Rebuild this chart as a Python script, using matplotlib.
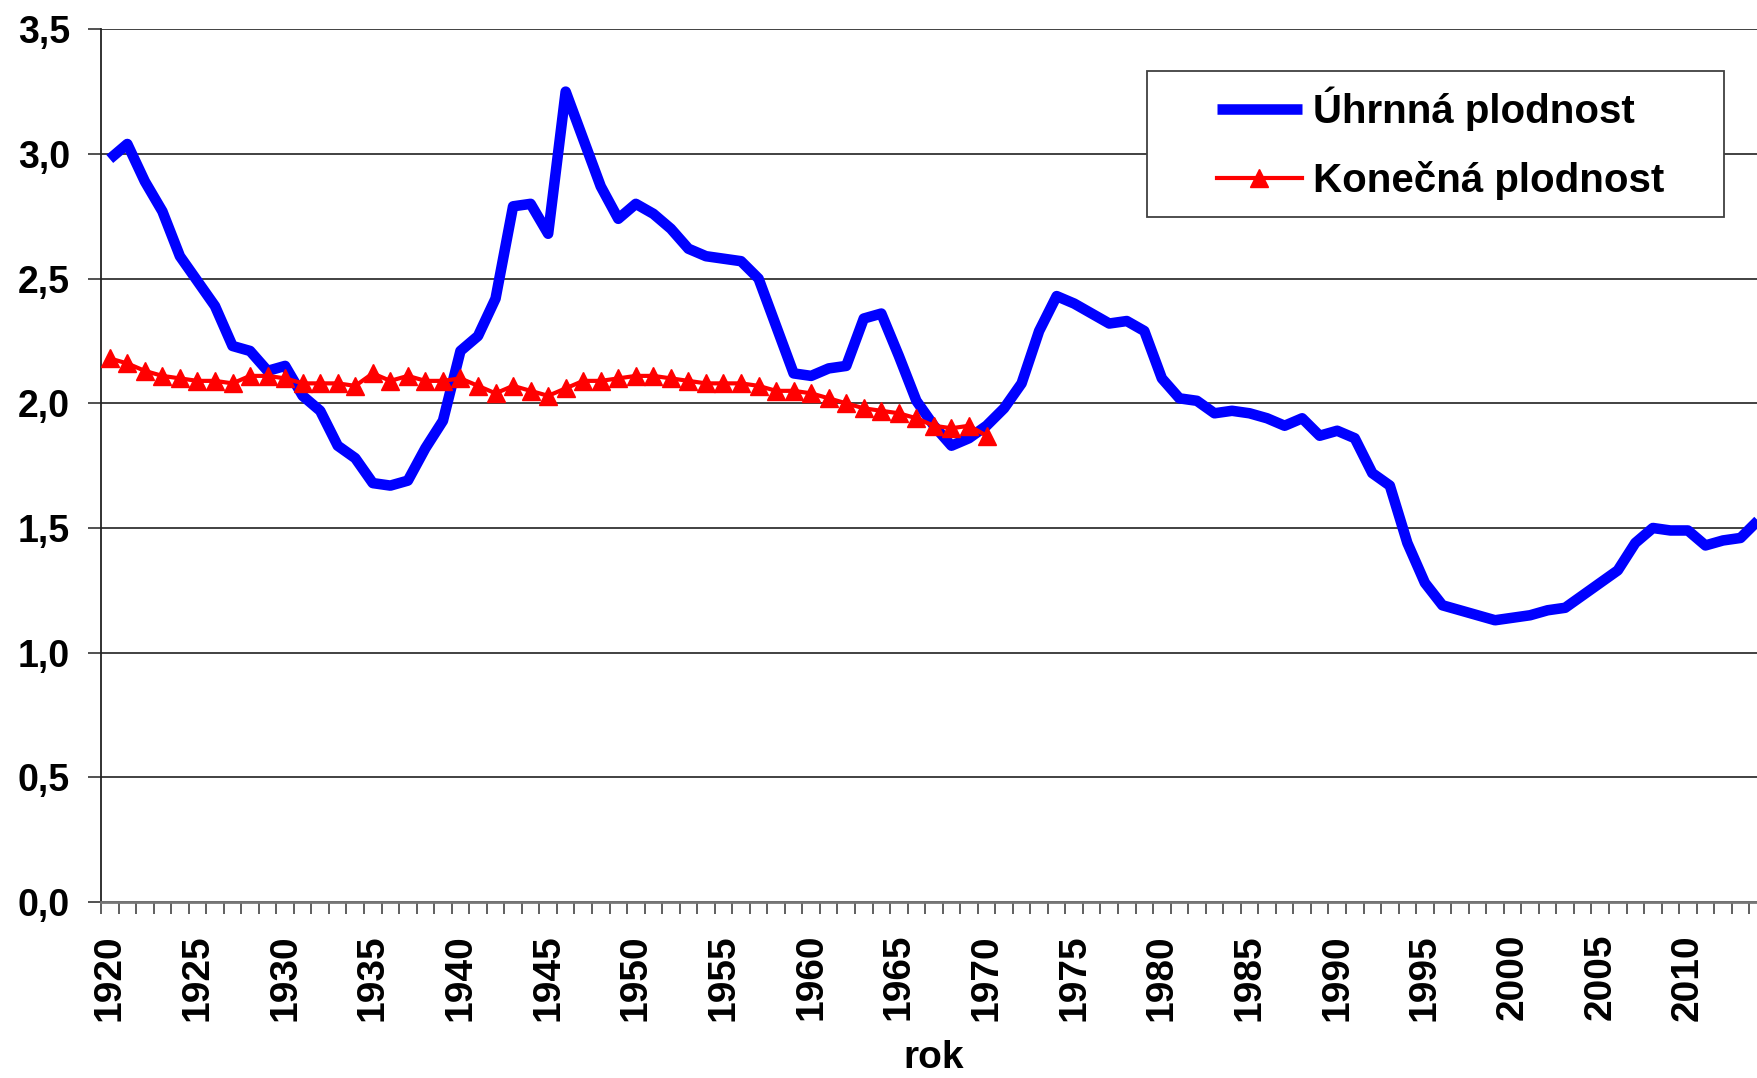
import matplotlib
matplotlib.use("Agg")
import matplotlib.pyplot as plt
from matplotlib.patches import Rectangle

plt.rcParams['font.family'] = ['Liberation Sans', 'DejaVu Sans']
plt.rcParams['font.weight'] = 'bold'

# ---- data ----
years_total = list(range(1920, 2015))
total_fertility = [
    2.98, 3.04, 2.89, 2.77, 2.59, 2.49, 2.39, 2.23, 2.21, 2.13,
    2.15, 2.03, 1.97, 1.83, 1.78, 1.68, 1.67, 1.69, 1.82, 1.93,
    2.21, 2.27, 2.42, 2.79, 2.80, 2.68, 3.25, 3.06, 2.87, 2.74,
    2.80, 2.76, 2.70, 2.62, 2.59, 2.58, 2.57, 2.50, 2.31, 2.12,
    2.11, 2.14, 2.15, 2.34, 2.36, 2.19, 2.01, 1.91, 1.83, 1.86,
    1.91, 1.98, 2.08, 2.29, 2.43, 2.40, 2.36, 2.32, 2.33, 2.29,
    2.10, 2.02, 2.01, 1.96, 1.97, 1.96, 1.94, 1.91, 1.94, 1.87,
    1.89, 1.86, 1.72, 1.67, 1.44, 1.28, 1.19, 1.17, 1.15, 1.13,
    1.14, 1.15, 1.17, 1.18, 1.23, 1.28, 1.33, 1.44, 1.50, 1.49,
    1.49, 1.43, 1.45, 1.46, 1.53,
]
years_completed = list(range(1920, 1971))
completed_fertility = [
    2.18, 2.16, 2.13, 2.11, 2.10, 2.09, 2.09, 2.08, 2.11, 2.11,
    2.10, 2.08, 2.08, 2.08, 2.07, 2.12, 2.09, 2.11, 2.09, 2.09,
    2.10, 2.07, 2.04, 2.07, 2.05, 2.03, 2.06, 2.09, 2.09, 2.10,
    2.11, 2.11, 2.10, 2.09, 2.08, 2.08, 2.08, 2.07, 2.05, 2.05,
    2.04, 2.02, 2.00, 1.98, 1.97, 1.96, 1.94, 1.91, 1.90, 1.91,
    1.87,
]
series_labels = ["Úhrnná plodnost", "Konečná plodnost"]
x_tick_years = list(range(1920, 2011, 5))
y_ticks = [0.0, 0.5, 1.0, 1.5, 2.0, 2.5, 3.0, 3.5]
y_tick_labels = ["0,0", "0,5", "1,0", "1,5", "2,0", "2,5", "3,0", "3,5"]
x_label = "rok"

# ---- figure ----
W, H = 1758, 1078
fig = plt.figure(figsize=(W / 100, H / 100), dpi=100)
ax_left = 101 / W
ax_bottom = (H - 902) / H
ax_top = (H - 29.3) / H
ax_width = (95 * 17.535) / W
ax = fig.add_axes([ax_left, ax_bottom, ax_width, ax_top - ax_bottom])

ax.plot(years_total, total_fertility, color='#0000FF', lw=7.6,
        solid_joinstyle='round', solid_capstyle='butt',
        label=series_labels[0], zorder=3)
ax.plot(years_completed, completed_fertility, color='#FF0000', lw=3.0,
        marker='^', ms=13, mew=1, mec='#FF0000', mfc='#FF0000',
        label=series_labels[1], zorder=4)

ax.set_xlim(years_total[0] - 0.5, years_total[-1] + 0.5)
ax.set_ylim(0, 3.5)

# grid
ax.set_yticks(y_ticks)
ax.set_yticklabels(y_tick_labels, fontsize=27, fontweight='bold')
ax.yaxis.grid(True, color='#333333', lw=1.3)
ax.set_axisbelow(True)

# x ticks: labels every 5 years, tick marks at category boundaries
ax.set_xticks(x_tick_years)
ax.set_xticklabels([str(y) for y in x_tick_years], rotation=90,
                   fontsize=28, fontweight='bold')
ax.set_xticks([y - 0.5 for y in years_total] + [years_total[-1] + 0.5], minor=True)
ax.tick_params(axis='x', which='major', length=0, pad=23)
ax.tick_params(axis='x', which='minor', length=8.6, width=1.2,
               color='#444444', direction='out')
ax.tick_params(axis='y', which='major', length=9.4, width=1.2,
               color='#333333', direction='out', pad=13)

for s in ['top', 'right']:
    ax.spines[s].set_visible(False)
ax.spines['left'].set_color('#222222')
ax.spines['left'].set_linewidth(1.3)
ax.spines['bottom'].set_color('#777777')
ax.spines['bottom'].set_linewidth(2)

# x label
ax.set_xlabel(x_label, fontsize=28, fontweight='bold')
ax.xaxis.label.set_va('baseline')
ax.xaxis.set_label_coords(0.5, (902 - 1068) / (902 - 29.3))

# legend frame and legend
rx0, ry0, rx1, ry1 = 1147.3, 70.7, 1724, 217.3
frame = Rectangle((rx0 / W, 1 - ry1 / H), (rx1 - rx0) / W, (ry1 - ry0) / H,
                  transform=fig.transFigure, facecolor='white',
                  edgecolor='#404040', lw=1.3, zorder=4.5, clip_on=False)
ax.add_patch(frame)
leg = ax.legend(loc='center left', bbox_to_anchor=(1216.7 / W, 1 - 143.5 / H),
                bbox_transform=fig.transFigure, frameon=False, borderpad=0,
                handlelength=2.12, handletextpad=0.27, labelspacing=0.75,
                prop={'family': 'Liberation Sans', 'weight': 'bold', 'size': 29},
                borderaxespad=0)
leg.set_zorder(6)

fig.savefig("out.png", dpi=100)
